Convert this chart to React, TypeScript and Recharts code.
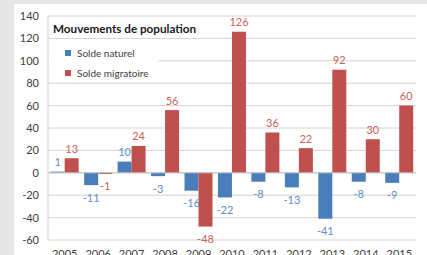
import { BarChart, Bar, XAxis, YAxis, CartesianGrid, ReferenceLine, LabelList } from 'recharts';

// Mouvements de population, 2005-2015
const years = ['2005', '2006', '2007', '2008', '2009', '2010', '2011', '2012', '2013', '2014', '2015'];
const soldeNaturel = [1, -11, 10, -3, -16, -22, -8, -13, -41, -8, -9];
const soldeMigratoire = [13, -1, 24, 56, -48, 126, 36, 22, 92, 30, 60];
const yTicks = [-60, -40, -20, 0, 20, 40, 60, 80, 100, 120, 140];

const BLUE = '#4a7ebb';
const RED = '#c0504d';
const FONT = 'Lato, "Open Sans", sans-serif';

const data = years.map((year, i) => ({
  year,
  naturel: soldeNaturel[i],
  migratoire: soldeMigratoire[i],
}));

const makeLabel = (color: string) => (props: any) => {
  const { x, y, width, height, value } = props;
  const top = Math.min(y, y + height);
  const bottom = Math.max(y, y + height);
  const cx = x + width / 2;
  const ty = value >= 0 ? top - 10 : bottom + 12;
  return (
    <text x={cx} y={ty} textAnchor="middle" dominantBaseline="central" fill={color} fontSize={11} fontFamily={FONT}>
      {value}
    </text>
  );
};

export default function App() {
  return (
    <div style={{ position: 'fixed', left: 0, top: 0, width: 427, height: 255, background: '#e6e6e6', overflow: 'hidden' }}>
      <div style={{ position: 'absolute', left: 14, top: 4, width: 413, height: 251, background: '#fff' }}>
        <BarChart
          width={413}
          height={251}
          data={data}
          margin={{ top: 12, right: 11, bottom: 0, left: 0 }}
          barGap={0}
          barCategoryGap="8%"
        >
          <CartesianGrid vertical={false} stroke="#d4d4d4" />
          <XAxis
            dataKey="year"
            height={15}
            axisLine={false}
            tickLine={false}
            tickSize={0}
            tickMargin={10}
            tick={{ fill: '#404040', fontSize: 11, fontFamily: FONT }}
            interval={0}
          />
          <YAxis
            width={34}
            domain={[-60, 140]}
            ticks={yTicks}
            interval={0}
            axisLine={{ stroke: '#d4d4d4' }}
            tickLine={false}
            tickSize={0}
            tickMargin={9}
            tick={{ fill: '#404040', fontSize: 11, fontFamily: FONT }}
          />
          <ReferenceLine y={0} stroke="#bfbfbf" />
          <Bar dataKey="naturel" fill={BLUE} isAnimationActive={false}>
            <LabelList dataKey="naturel" content={makeLabel('#5b8fcc')} />
          </Bar>
          <Bar dataKey="migratoire" fill={RED} isAnimationActive={false}>
            <LabelList dataKey="migratoire" content={makeLabel('#cc5f5c')} />
          </Bar>
        </BarChart>
      </div>
      {/* title */}
      <div style={{ position: 'absolute', left: 53, top: 21, fontFamily: FONT, fontWeight: 700, fontSize: 11.7, color: '#1a1a1a', whiteSpace: 'nowrap' }}>
        Mouvements de population
      </div>
      {/* legend box */}
      <div style={{ position: 'absolute', left: 49, top: 43, width: 109, height: 38, background: '#fff', fontFamily: FONT, fontSize: 10, color: '#404040' }}>
        <div style={{ position: 'absolute', left: 16, top: 4, display: 'flex', alignItems: 'center', whiteSpace: 'nowrap' }}>
          <span style={{ width: 6, height: 6, background: BLUE, marginRight: 6 }} />
          Solde naturel
        </div>
        <div style={{ position: 'absolute', left: 16, top: 24, display: 'flex', alignItems: 'center', whiteSpace: 'nowrap' }}>
          <span style={{ width: 6, height: 6, background: RED, marginRight: 6 }} />
          Solde migratoire
        </div>
      </div>
    </div>
  );
}
